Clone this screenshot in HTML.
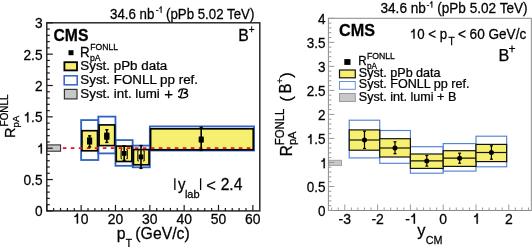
<!DOCTYPE html>
<html><head><meta charset="utf-8"><style>
html,body{margin:0;padding:0;background:#fff;}
svg{display:block;filter:blur(0.3px);}
text{font-family:"Liberation Sans", sans-serif;fill:#000;stroke:#000;stroke-width:0.25px;}
</style></head><body>
<svg width="532" height="247" viewBox="0 0 532 247">
<rect x="0" y="0" width="532" height="247" fill="#fff"/>
<rect x="46.80" y="144.90" width="13.80" height="6.30" fill="#c8c8c8" stroke="#222" stroke-width="1" />
<rect x="81.14" y="120.10" width="17.17" height="39.90" fill="none" stroke="#2f62c2" stroke-width="1.8" />
<rect x="98.31" y="116.60" width="17.17" height="36.80" fill="none" stroke="#2f62c2" stroke-width="1.8" />
<rect x="115.48" y="140.10" width="17.17" height="25.70" fill="none" stroke="#2f62c2" stroke-width="1.8" />
<rect x="132.65" y="145.60" width="17.17" height="21.70" fill="none" stroke="#2f62c2" stroke-width="1.8" />
<rect x="149.82" y="126.40" width="104.22" height="24.10" fill="none" stroke="#2f62c2" stroke-width="1.8" />
<rect x="81.94" y="130.70" width="15.57" height="20.10" fill="#f7ef6f" stroke="#000" stroke-width="1.65" />
<rect x="99.11" y="124.90" width="15.57" height="20.70" fill="#f7ef6f" stroke="#000" stroke-width="1.65" />
<rect x="116.28" y="146.10" width="15.57" height="15.40" fill="#f7ef6f" stroke="#000" stroke-width="1.65" />
<rect x="133.45" y="149.60" width="15.57" height="15.20" fill="#f7ef6f" stroke="#000" stroke-width="1.65" />
<rect x="150.62" y="128.80" width="102.62" height="21.00" fill="#f7ef6f" stroke="#000" stroke-width="1.65" />
<line x1="62.80" y1="148.20" x2="253.50" y2="148.20" stroke="#e8141c" stroke-width="1.8" stroke-dasharray="3.6 4.4"/>
<rect x="87.00" y="137.50" width="5.20" height="7.00" fill="#000" stroke="none" stroke-width="1" />
<rect x="104.20" y="132.60" width="5.20" height="7.20" fill="#000" stroke="none" stroke-width="1" />
<path d="M122.10,149.60 H121.10 V158.70 H122.10 M126.30,149.60 H127.30 V158.70 H126.30" fill="none" stroke="#000" stroke-width="1.0"/>
<path d="M138.80,150.80 H137.80 V161.00 H138.80 M143.20,150.80 H144.20 V161.00 H143.20" fill="none" stroke="#000" stroke-width="1.0"/>
<rect x="198.80" y="136.50" width="4.80" height="6.10" fill="#000" stroke="none" stroke-width="1" />
<line x1="89.60" y1="135.30" x2="89.60" y2="147.50" stroke="#000" stroke-width="1.6" />
<line x1="88.00" y1="135.90" x2="91.20" y2="135.90" stroke="#000" stroke-width="1.4" />
<line x1="88.00" y1="146.90" x2="91.20" y2="146.90" stroke="#000" stroke-width="1.4" />
<rect x="87.20" y="138.60" width="4.80" height="4.80" fill="#000" stroke="none" stroke-width="1" />
<line x1="106.80" y1="129.20" x2="106.80" y2="143.00" stroke="#000" stroke-width="1.6" />
<line x1="105.20" y1="129.80" x2="108.40" y2="129.80" stroke="#000" stroke-width="1.4" />
<line x1="105.20" y1="142.40" x2="108.40" y2="142.40" stroke="#000" stroke-width="1.4" />
<rect x="104.40" y="133.70" width="4.80" height="4.80" fill="#000" stroke="none" stroke-width="1" />
<line x1="124.20" y1="145.50" x2="124.20" y2="161.00" stroke="#000" stroke-width="1.6" />
<line x1="122.60" y1="146.10" x2="125.80" y2="146.10" stroke="#000" stroke-width="1.4" />
<line x1="122.60" y1="160.40" x2="125.80" y2="160.40" stroke="#000" stroke-width="1.4" />
<rect x="121.80" y="151.00" width="4.80" height="4.80" fill="#000" stroke="none" stroke-width="1" />
<line x1="141.00" y1="145.00" x2="141.00" y2="169.00" stroke="#000" stroke-width="1.6" />
<line x1="139.40" y1="145.60" x2="142.60" y2="145.60" stroke="#000" stroke-width="1.4" />
<line x1="139.40" y1="168.40" x2="142.60" y2="168.40" stroke="#000" stroke-width="1.4" />
<rect x="138.60" y="154.50" width="4.80" height="4.80" fill="#000" stroke="none" stroke-width="1" />
<line x1="201.20" y1="126.80" x2="201.20" y2="151.00" stroke="#000" stroke-width="1.6" />
<line x1="199.60" y1="127.40" x2="202.80" y2="127.40" stroke="#000" stroke-width="1.4" />
<line x1="199.60" y1="150.40" x2="202.80" y2="150.40" stroke="#000" stroke-width="1.4" />
<rect x="198.80" y="137.20" width="4.80" height="4.80" fill="#000" stroke="none" stroke-width="1" />
<rect x="46.80" y="22.80" width="213.00" height="188.10" fill="none" stroke="#2a2a2a" stroke-width="1.5" />
<line x1="46.80" y1="210.90" x2="46.80" y2="204.90" stroke="#1a1a1a" stroke-width="1.2" />
<line x1="53.67" y1="210.90" x2="53.67" y2="207.90" stroke="#1a1a1a" stroke-width="1.2" />
<line x1="60.54" y1="210.90" x2="60.54" y2="207.90" stroke="#1a1a1a" stroke-width="1.2" />
<line x1="67.40" y1="210.90" x2="67.40" y2="207.90" stroke="#1a1a1a" stroke-width="1.2" />
<line x1="74.27" y1="210.90" x2="74.27" y2="207.90" stroke="#1a1a1a" stroke-width="1.2" />
<line x1="81.14" y1="210.90" x2="81.14" y2="204.90" stroke="#1a1a1a" stroke-width="1.2" />
<line x1="88.01" y1="210.90" x2="88.01" y2="207.90" stroke="#1a1a1a" stroke-width="1.2" />
<line x1="94.88" y1="210.90" x2="94.88" y2="207.90" stroke="#1a1a1a" stroke-width="1.2" />
<line x1="101.74" y1="210.90" x2="101.74" y2="207.90" stroke="#1a1a1a" stroke-width="1.2" />
<line x1="108.61" y1="210.90" x2="108.61" y2="207.90" stroke="#1a1a1a" stroke-width="1.2" />
<line x1="115.48" y1="210.90" x2="115.48" y2="204.90" stroke="#1a1a1a" stroke-width="1.2" />
<line x1="122.35" y1="210.90" x2="122.35" y2="207.90" stroke="#1a1a1a" stroke-width="1.2" />
<line x1="129.22" y1="210.90" x2="129.22" y2="207.90" stroke="#1a1a1a" stroke-width="1.2" />
<line x1="136.08" y1="210.90" x2="136.08" y2="207.90" stroke="#1a1a1a" stroke-width="1.2" />
<line x1="142.95" y1="210.90" x2="142.95" y2="207.90" stroke="#1a1a1a" stroke-width="1.2" />
<line x1="149.82" y1="210.90" x2="149.82" y2="204.90" stroke="#1a1a1a" stroke-width="1.2" />
<line x1="156.69" y1="210.90" x2="156.69" y2="207.90" stroke="#1a1a1a" stroke-width="1.2" />
<line x1="163.56" y1="210.90" x2="163.56" y2="207.90" stroke="#1a1a1a" stroke-width="1.2" />
<line x1="170.42" y1="210.90" x2="170.42" y2="207.90" stroke="#1a1a1a" stroke-width="1.2" />
<line x1="177.29" y1="210.90" x2="177.29" y2="207.90" stroke="#1a1a1a" stroke-width="1.2" />
<line x1="184.16" y1="210.90" x2="184.16" y2="204.90" stroke="#1a1a1a" stroke-width="1.2" />
<line x1="191.03" y1="210.90" x2="191.03" y2="207.90" stroke="#1a1a1a" stroke-width="1.2" />
<line x1="197.90" y1="210.90" x2="197.90" y2="207.90" stroke="#1a1a1a" stroke-width="1.2" />
<line x1="204.76" y1="210.90" x2="204.76" y2="207.90" stroke="#1a1a1a" stroke-width="1.2" />
<line x1="211.63" y1="210.90" x2="211.63" y2="207.90" stroke="#1a1a1a" stroke-width="1.2" />
<line x1="218.50" y1="210.90" x2="218.50" y2="204.90" stroke="#1a1a1a" stroke-width="1.2" />
<line x1="225.37" y1="210.90" x2="225.37" y2="207.90" stroke="#1a1a1a" stroke-width="1.2" />
<line x1="232.24" y1="210.90" x2="232.24" y2="207.90" stroke="#1a1a1a" stroke-width="1.2" />
<line x1="239.10" y1="210.90" x2="239.10" y2="207.90" stroke="#1a1a1a" stroke-width="1.2" />
<line x1="245.97" y1="210.90" x2="245.97" y2="207.90" stroke="#1a1a1a" stroke-width="1.2" />
<line x1="252.84" y1="210.90" x2="252.84" y2="204.90" stroke="#1a1a1a" stroke-width="1.2" />
<line x1="46.80" y1="210.90" x2="52.80" y2="210.90" stroke="#1a1a1a" stroke-width="1.2" />
<line x1="46.80" y1="204.63" x2="49.80" y2="204.63" stroke="#1a1a1a" stroke-width="1.2" />
<line x1="46.80" y1="198.36" x2="49.80" y2="198.36" stroke="#1a1a1a" stroke-width="1.2" />
<line x1="46.80" y1="192.09" x2="49.80" y2="192.09" stroke="#1a1a1a" stroke-width="1.2" />
<line x1="46.80" y1="185.82" x2="49.80" y2="185.82" stroke="#1a1a1a" stroke-width="1.2" />
<line x1="46.80" y1="179.55" x2="52.80" y2="179.55" stroke="#1a1a1a" stroke-width="1.2" />
<line x1="46.80" y1="173.28" x2="49.80" y2="173.28" stroke="#1a1a1a" stroke-width="1.2" />
<line x1="46.80" y1="167.01" x2="49.80" y2="167.01" stroke="#1a1a1a" stroke-width="1.2" />
<line x1="46.80" y1="160.74" x2="49.80" y2="160.74" stroke="#1a1a1a" stroke-width="1.2" />
<line x1="46.80" y1="154.47" x2="49.80" y2="154.47" stroke="#1a1a1a" stroke-width="1.2" />
<line x1="46.80" y1="148.20" x2="52.80" y2="148.20" stroke="#1a1a1a" stroke-width="1.2" />
<line x1="46.80" y1="141.93" x2="49.80" y2="141.93" stroke="#1a1a1a" stroke-width="1.2" />
<line x1="46.80" y1="135.66" x2="49.80" y2="135.66" stroke="#1a1a1a" stroke-width="1.2" />
<line x1="46.80" y1="129.39" x2="49.80" y2="129.39" stroke="#1a1a1a" stroke-width="1.2" />
<line x1="46.80" y1="123.12" x2="49.80" y2="123.12" stroke="#1a1a1a" stroke-width="1.2" />
<line x1="46.80" y1="116.85" x2="52.80" y2="116.85" stroke="#1a1a1a" stroke-width="1.2" />
<line x1="46.80" y1="110.58" x2="49.80" y2="110.58" stroke="#1a1a1a" stroke-width="1.2" />
<line x1="46.80" y1="104.31" x2="49.80" y2="104.31" stroke="#1a1a1a" stroke-width="1.2" />
<line x1="46.80" y1="98.04" x2="49.80" y2="98.04" stroke="#1a1a1a" stroke-width="1.2" />
<line x1="46.80" y1="91.77" x2="49.80" y2="91.77" stroke="#1a1a1a" stroke-width="1.2" />
<line x1="46.80" y1="85.50" x2="52.80" y2="85.50" stroke="#1a1a1a" stroke-width="1.2" />
<line x1="46.80" y1="79.23" x2="49.80" y2="79.23" stroke="#1a1a1a" stroke-width="1.2" />
<line x1="46.80" y1="72.96" x2="49.80" y2="72.96" stroke="#1a1a1a" stroke-width="1.2" />
<line x1="46.80" y1="66.69" x2="49.80" y2="66.69" stroke="#1a1a1a" stroke-width="1.2" />
<line x1="46.80" y1="60.42" x2="49.80" y2="60.42" stroke="#1a1a1a" stroke-width="1.2" />
<line x1="46.80" y1="54.15" x2="52.80" y2="54.15" stroke="#1a1a1a" stroke-width="1.2" />
<line x1="46.80" y1="47.88" x2="49.80" y2="47.88" stroke="#1a1a1a" stroke-width="1.2" />
<line x1="46.80" y1="41.61" x2="49.80" y2="41.61" stroke="#1a1a1a" stroke-width="1.2" />
<line x1="46.80" y1="35.34" x2="49.80" y2="35.34" stroke="#1a1a1a" stroke-width="1.2" />
<line x1="46.80" y1="29.07" x2="49.80" y2="29.07" stroke="#1a1a1a" stroke-width="1.2" />
<line x1="46.80" y1="22.80" x2="52.80" y2="22.80" stroke="#1a1a1a" stroke-width="1.2" />
<g transform="translate(73.04,223.60) scale(1,1.04)"><path transform="translate(0.000,0) scale(13.9)" d="M0.27,-0.703 L0.36,-0.703 L0.36,0 L0.27,0 L0.27,-0.515 C0.22,-0.47 0.16,-0.455 0.10,-0.45 L0.10,-0.525 C0.19,-0.535 0.255,-0.59 0.27,-0.703 Z" fill="#000" stroke="#000" stroke-width="0.0180"/><text x="7.728" y="0" font-size="13.9">0</text></g>
<g transform="translate(107.76,223.60) scale(1,1.04)"><text x="0.000" y="0" font-size="13.9">2</text><text x="7.728" y="0" font-size="13.9">0</text></g>
<g transform="translate(142.10,223.60) scale(1,1.04)"><text x="0.000" y="0" font-size="13.9">3</text><text x="7.728" y="0" font-size="13.9">0</text></g>
<g transform="translate(176.44,223.60) scale(1,1.04)"><text x="0.000" y="0" font-size="13.9">4</text><text x="7.728" y="0" font-size="13.9">0</text></g>
<g transform="translate(210.78,223.60) scale(1,1.04)"><text x="0.000" y="0" font-size="13.9">5</text><text x="7.728" y="0" font-size="13.9">0</text></g>
<g transform="translate(245.12,223.60) scale(1,1.04)"><text x="0.000" y="0" font-size="13.9">6</text><text x="7.728" y="0" font-size="13.9">0</text></g>
<g transform="translate(34.91,216.30) scale(1,1.04)"><text x="0.000" y="0" font-size="13.7">0</text></g>
<g transform="translate(23.49,184.95) scale(1,1.04)"><text x="0.000" y="0" font-size="13.7">0</text><text x="7.617" y="0" font-size="13.7">.</text><text x="11.426" y="0" font-size="13.7">5</text></g>
<g transform="translate(36.97,153.60) scale(1,1.04)"><path transform="translate(0.000,0) scale(13.7)" d="M0.27,-0.703 L0.36,-0.703 L0.36,0 L0.27,0 L0.27,-0.515 C0.22,-0.47 0.16,-0.455 0.10,-0.45 L0.10,-0.525 C0.19,-0.535 0.255,-0.59 0.27,-0.703 Z" fill="#000" stroke="#000" stroke-width="0.0182"/></g>
<g transform="translate(23.49,122.25) scale(1,1.04)"><path transform="translate(0.000,0) scale(13.7)" d="M0.27,-0.703 L0.36,-0.703 L0.36,0 L0.27,0 L0.27,-0.515 C0.22,-0.47 0.16,-0.455 0.10,-0.45 L0.10,-0.525 C0.19,-0.535 0.255,-0.59 0.27,-0.703 Z" fill="#000" stroke="#000" stroke-width="0.0182"/><text x="7.617" y="0" font-size="13.7">.</text><text x="11.426" y="0" font-size="13.7">5</text></g>
<g transform="translate(34.91,90.90) scale(1,1.04)"><text x="0.000" y="0" font-size="13.7">2</text></g>
<g transform="translate(23.49,59.55) scale(1,1.04)"><text x="0.000" y="0" font-size="13.7">2</text><text x="7.617" y="0" font-size="13.7">.</text><text x="11.426" y="0" font-size="13.7">5</text></g>
<g transform="translate(34.91,28.20) scale(1,1.04)"><text x="0.000" y="0" font-size="13.7">3</text></g>
<text transform="translate(110.00,18.80) scale(1,1.04)" font-size="13.3" text-anchor="start" font-weight="normal" >34.6 nb</text>
<text transform="translate(155.85,12.80) scale(1,1.04)" font-size="8.8" text-anchor="start" font-weight="normal" >-</text>
<path transform="translate(158.35,12.80) scale(8.8,9.152)" d="M0.27,-0.703 L0.36,-0.703 L0.36,0 L0.27,0 L0.27,-0.515 C0.22,-0.47 0.16,-0.455 0.10,-0.45 L0.10,-0.525 C0.19,-0.535 0.255,-0.59 0.27,-0.703 Z" fill="#000" stroke="#000" stroke-width="0.0284"/>
<text transform="translate(166.00,18.80) scale(1,1.04)" font-size="13.3" text-anchor="start" font-weight="normal" >(pPb 5.02 TeV)</text>
<text transform="translate(53.50,40.50) scale(1,1.07)" font-size="15.7" text-anchor="start" font-weight="bold" >CMS</text>
<text transform="translate(238.30,40.60) scale(1,1.04)" font-size="15.8" text-anchor="start" font-weight="normal" >B<tspan dy="-7" font-size="10">+</tspan></text>
<rect x="68.50" y="50.20" width="5.00" height="5.00" fill="#000" stroke="none" stroke-width="1" />
<text transform="translate(80.00,57.20) scale(1,1.04)" font-size="13.4" text-anchor="start" font-weight="normal" >R</text>
<text transform="translate(90.30,49.80) scale(1,1.04)" font-size="8.6" text-anchor="start" font-weight="normal" >FONLL</text>
<text transform="translate(89.90,60.60) scale(1,1.04)" font-size="8.8" text-anchor="start" font-weight="normal" >pA</text>
<rect x="64.40" y="62.20" width="12.60" height="8.20" fill="#f7ef6f" stroke="#000" stroke-width="1.8" />
<text transform="translate(80.30,69.80) scale(1,0.95)" font-size="13.4" text-anchor="start" font-weight="normal" >Syst. pPb data</text>
<rect x="64.20" y="75.80" width="13.00" height="9.00" fill="#fff" stroke="#3c6cc4" stroke-width="1.6" />
<text transform="translate(80.30,83.70) scale(1,0.95)" font-size="13.4" text-anchor="start" font-weight="normal" >Syst. FONLL pp ref.</text>
<rect x="64.40" y="89.40" width="12.60" height="9.50" fill="#c8c8c8" stroke="#333" stroke-width="1.2" />
<text transform="translate(80.30,97.80) scale(1,0.95)" font-size="13.4" text-anchor="start" font-weight="normal" >Syst. int. lumi</text>
<text transform="translate(164.35,99.25) scale(1,1.0)" font-size="15" text-anchor="start" font-weight="normal" >+</text>
<path d="M178.7,91.7 C179.3,89.7 181.0,88.9 183.0,88.9 C186.0,88.8 187.6,89.5 187.2,91.0 C186.8,92.5 185.0,93.0 183.6,93.1 C186.6,93.2 188.1,94.2 187.6,95.8 C187.0,97.5 184.0,97.9 181.5,97.8 C180.0,97.7 178.8,97.4 178.5,96.6 M182.7,89.3 C181.9,92.0 181.1,95.0 180.3,97.5" fill="none" stroke="#000" stroke-width="1.35" stroke-linecap="round"/>
<line x1="174.85" y1="178.30" x2="174.85" y2="190.10" stroke="#000" stroke-width="1.3" />
<text transform="translate(178.10,190.10) scale(1,1.04)" font-size="15" text-anchor="start" font-weight="normal" >y</text>
<text transform="translate(184.90,198.20) scale(1,1.04)" font-size="11" text-anchor="start" font-weight="normal" >lab</text>
<line x1="200.60" y1="178.30" x2="200.60" y2="190.10" stroke="#000" stroke-width="1.3" />
<text transform="translate(206.20,190.60) scale(1,1.0)" font-size="16.5" text-anchor="start" font-weight="normal" >&lt;</text>
<text transform="translate(220.70,190.00) scale(1,1.04)" font-size="15.6" text-anchor="start" font-weight="normal" >2.4</text>
<text transform="translate(116.80,238.80) scale(1,1.04)" font-size="15.8" text-anchor="start" font-weight="normal" >p</text>
<text transform="translate(125.80,246.80) scale(1,1.04)" font-size="10.2" text-anchor="start" font-weight="normal" >T</text>
<text transform="translate(135.35,238.80) scale(1,1.04)" font-size="15.8" text-anchor="start" font-weight="normal" >(GeV/c)</text>
<text transform="translate(14.70,138.10) rotate(-90) scale(1,1.04)" font-size="14.6" >R</text>
<text transform="translate(7.90,126.40) rotate(-90) scale(1,1.04)" font-size="9.9" >FONLL</text>
<text transform="translate(19.40,127.40) rotate(-90) scale(1,1.04)" font-size="9.5" >pA</text>
<rect x="328.80" y="160.30" width="12.70" height="5.10" fill="#c8c8c8" stroke="#a0a0a0" stroke-width="1" />
<rect x="349.23" y="120.20" width="30.50" height="37.70" fill="none" stroke="#5283d0" stroke-width="1.15" />
<rect x="379.73" y="130.50" width="30.67" height="32.80" fill="none" stroke="#5283d0" stroke-width="1.15" />
<rect x="410.40" y="146.70" width="32.80" height="26.50" fill="none" stroke="#5283d0" stroke-width="1.15" />
<rect x="443.20" y="143.60" width="32.80" height="27.50" fill="none" stroke="#5283d0" stroke-width="1.15" />
<rect x="476.00" y="136.20" width="30.67" height="30.60" fill="none" stroke="#5283d0" stroke-width="1.15" />
<rect x="349.23" y="129.90" width="30.50" height="20.30" fill="#f7ef6f" stroke="#111" stroke-width="1.2" />
<line x1="349.23" y1="140.00" x2="379.73" y2="140.00" stroke="#111" stroke-width="1.2" />
<line x1="364.48" y1="131.20" x2="364.48" y2="148.50" stroke="#000" stroke-width="1.2" />
<line x1="362.98" y1="131.20" x2="365.98" y2="131.20" stroke="#000" stroke-width="1.2" />
<line x1="362.98" y1="148.50" x2="365.98" y2="148.50" stroke="#000" stroke-width="1.2" />
<circle cx="364.48" cy="140.00" r="2.5" fill="#000"/>
<rect x="379.73" y="138.70" width="30.67" height="18.30" fill="#f7ef6f" stroke="#111" stroke-width="1.2" />
<line x1="379.73" y1="148.00" x2="410.40" y2="148.00" stroke="#111" stroke-width="1.2" />
<line x1="394.98" y1="141.80" x2="394.98" y2="153.70" stroke="#000" stroke-width="1.2" />
<line x1="393.48" y1="141.80" x2="396.48" y2="141.80" stroke="#000" stroke-width="1.2" />
<line x1="393.48" y1="153.70" x2="396.48" y2="153.70" stroke="#000" stroke-width="1.2" />
<circle cx="394.98" cy="148.00" r="2.5" fill="#000"/>
<rect x="410.40" y="154.00" width="32.80" height="14.40" fill="#f7ef6f" stroke="#111" stroke-width="1.2" />
<line x1="410.40" y1="160.90" x2="443.20" y2="160.90" stroke="#111" stroke-width="1.2" />
<line x1="426.80" y1="155.50" x2="426.80" y2="166.10" stroke="#000" stroke-width="1.2" />
<line x1="425.30" y1="155.50" x2="428.30" y2="155.50" stroke="#000" stroke-width="1.2" />
<line x1="425.30" y1="166.10" x2="428.30" y2="166.10" stroke="#000" stroke-width="1.2" />
<circle cx="426.80" cy="160.90" r="2.5" fill="#000"/>
<rect x="443.20" y="150.70" width="32.80" height="15.70" fill="#f7ef6f" stroke="#111" stroke-width="1.2" />
<line x1="443.20" y1="158.20" x2="476.00" y2="158.20" stroke="#111" stroke-width="1.2" />
<line x1="459.60" y1="153.20" x2="459.60" y2="163.20" stroke="#000" stroke-width="1.2" />
<line x1="458.10" y1="153.20" x2="461.10" y2="153.20" stroke="#000" stroke-width="1.2" />
<line x1="458.10" y1="163.20" x2="461.10" y2="163.20" stroke="#000" stroke-width="1.2" />
<circle cx="459.60" cy="158.20" r="2.5" fill="#000"/>
<rect x="476.00" y="144.40" width="30.67" height="17.20" fill="#f7ef6f" stroke="#111" stroke-width="1.2" />
<line x1="476.00" y1="152.50" x2="506.67" y2="152.50" stroke="#111" stroke-width="1.2" />
<line x1="491.42" y1="145.80" x2="491.42" y2="159.20" stroke="#000" stroke-width="1.2" />
<line x1="489.92" y1="145.80" x2="492.92" y2="145.80" stroke="#000" stroke-width="1.2" />
<line x1="489.92" y1="159.20" x2="492.92" y2="159.20" stroke="#000" stroke-width="1.2" />
<circle cx="491.42" cy="152.50" r="2.5" fill="#000"/>
<rect x="328.40" y="18.30" width="202.90" height="192.20" fill="none" stroke="#8a8a8a" stroke-width="1.0" />
<line x1="331.68" y1="210.50" x2="331.68" y2="207.50" stroke="#999" stroke-width="1.0" />
<line x1="338.24" y1="210.50" x2="338.24" y2="207.50" stroke="#999" stroke-width="1.0" />
<line x1="344.80" y1="210.50" x2="344.80" y2="204.50" stroke="#999" stroke-width="1.0" />
<line x1="351.36" y1="210.50" x2="351.36" y2="207.50" stroke="#999" stroke-width="1.0" />
<line x1="357.92" y1="210.50" x2="357.92" y2="207.50" stroke="#999" stroke-width="1.0" />
<line x1="364.48" y1="210.50" x2="364.48" y2="207.50" stroke="#999" stroke-width="1.0" />
<line x1="371.04" y1="210.50" x2="371.04" y2="207.50" stroke="#999" stroke-width="1.0" />
<line x1="377.60" y1="210.50" x2="377.60" y2="204.50" stroke="#999" stroke-width="1.0" />
<line x1="384.16" y1="210.50" x2="384.16" y2="207.50" stroke="#999" stroke-width="1.0" />
<line x1="390.72" y1="210.50" x2="390.72" y2="207.50" stroke="#999" stroke-width="1.0" />
<line x1="397.28" y1="210.50" x2="397.28" y2="207.50" stroke="#999" stroke-width="1.0" />
<line x1="403.84" y1="210.50" x2="403.84" y2="207.50" stroke="#999" stroke-width="1.0" />
<line x1="410.40" y1="210.50" x2="410.40" y2="204.50" stroke="#999" stroke-width="1.0" />
<line x1="416.96" y1="210.50" x2="416.96" y2="207.50" stroke="#999" stroke-width="1.0" />
<line x1="423.52" y1="210.50" x2="423.52" y2="207.50" stroke="#999" stroke-width="1.0" />
<line x1="430.08" y1="210.50" x2="430.08" y2="207.50" stroke="#999" stroke-width="1.0" />
<line x1="436.64" y1="210.50" x2="436.64" y2="207.50" stroke="#999" stroke-width="1.0" />
<line x1="443.20" y1="210.50" x2="443.20" y2="204.50" stroke="#999" stroke-width="1.0" />
<line x1="449.76" y1="210.50" x2="449.76" y2="207.50" stroke="#999" stroke-width="1.0" />
<line x1="456.32" y1="210.50" x2="456.32" y2="207.50" stroke="#999" stroke-width="1.0" />
<line x1="462.88" y1="210.50" x2="462.88" y2="207.50" stroke="#999" stroke-width="1.0" />
<line x1="469.44" y1="210.50" x2="469.44" y2="207.50" stroke="#999" stroke-width="1.0" />
<line x1="476.00" y1="210.50" x2="476.00" y2="204.50" stroke="#999" stroke-width="1.0" />
<line x1="482.56" y1="210.50" x2="482.56" y2="207.50" stroke="#999" stroke-width="1.0" />
<line x1="489.12" y1="210.50" x2="489.12" y2="207.50" stroke="#999" stroke-width="1.0" />
<line x1="495.68" y1="210.50" x2="495.68" y2="207.50" stroke="#999" stroke-width="1.0" />
<line x1="502.24" y1="210.50" x2="502.24" y2="207.50" stroke="#999" stroke-width="1.0" />
<line x1="508.80" y1="210.50" x2="508.80" y2="204.50" stroke="#999" stroke-width="1.0" />
<line x1="515.36" y1="210.50" x2="515.36" y2="207.50" stroke="#999" stroke-width="1.0" />
<line x1="521.92" y1="210.50" x2="521.92" y2="207.50" stroke="#999" stroke-width="1.0" />
<line x1="528.48" y1="210.50" x2="528.48" y2="207.50" stroke="#999" stroke-width="1.0" />
<line x1="328.40" y1="210.50" x2="334.40" y2="210.50" stroke="#999" stroke-width="1.0" />
<line x1="328.40" y1="205.69" x2="331.40" y2="205.69" stroke="#999" stroke-width="1.0" />
<line x1="328.40" y1="200.89" x2="331.40" y2="200.89" stroke="#999" stroke-width="1.0" />
<line x1="328.40" y1="196.09" x2="331.40" y2="196.09" stroke="#999" stroke-width="1.0" />
<line x1="328.40" y1="191.28" x2="331.40" y2="191.28" stroke="#999" stroke-width="1.0" />
<line x1="328.40" y1="186.47" x2="334.40" y2="186.47" stroke="#999" stroke-width="1.0" />
<line x1="328.40" y1="181.67" x2="331.40" y2="181.67" stroke="#999" stroke-width="1.0" />
<line x1="328.40" y1="176.87" x2="331.40" y2="176.87" stroke="#999" stroke-width="1.0" />
<line x1="328.40" y1="172.06" x2="331.40" y2="172.06" stroke="#999" stroke-width="1.0" />
<line x1="328.40" y1="167.25" x2="331.40" y2="167.25" stroke="#999" stroke-width="1.0" />
<line x1="328.40" y1="162.45" x2="334.40" y2="162.45" stroke="#999" stroke-width="1.0" />
<line x1="328.40" y1="157.64" x2="331.40" y2="157.64" stroke="#999" stroke-width="1.0" />
<line x1="328.40" y1="152.84" x2="331.40" y2="152.84" stroke="#999" stroke-width="1.0" />
<line x1="328.40" y1="148.03" x2="331.40" y2="148.03" stroke="#999" stroke-width="1.0" />
<line x1="328.40" y1="143.23" x2="331.40" y2="143.23" stroke="#999" stroke-width="1.0" />
<line x1="328.40" y1="138.43" x2="334.40" y2="138.43" stroke="#999" stroke-width="1.0" />
<line x1="328.40" y1="133.62" x2="331.40" y2="133.62" stroke="#999" stroke-width="1.0" />
<line x1="328.40" y1="128.81" x2="331.40" y2="128.81" stroke="#999" stroke-width="1.0" />
<line x1="328.40" y1="124.01" x2="331.40" y2="124.01" stroke="#999" stroke-width="1.0" />
<line x1="328.40" y1="119.20" x2="331.40" y2="119.20" stroke="#999" stroke-width="1.0" />
<line x1="328.40" y1="114.40" x2="334.40" y2="114.40" stroke="#999" stroke-width="1.0" />
<line x1="328.40" y1="109.59" x2="331.40" y2="109.59" stroke="#999" stroke-width="1.0" />
<line x1="328.40" y1="104.79" x2="331.40" y2="104.79" stroke="#999" stroke-width="1.0" />
<line x1="328.40" y1="99.98" x2="331.40" y2="99.98" stroke="#999" stroke-width="1.0" />
<line x1="328.40" y1="95.18" x2="331.40" y2="95.18" stroke="#999" stroke-width="1.0" />
<line x1="328.40" y1="90.38" x2="334.40" y2="90.38" stroke="#999" stroke-width="1.0" />
<line x1="328.40" y1="85.57" x2="331.40" y2="85.57" stroke="#999" stroke-width="1.0" />
<line x1="328.40" y1="80.76" x2="331.40" y2="80.76" stroke="#999" stroke-width="1.0" />
<line x1="328.40" y1="75.96" x2="331.40" y2="75.96" stroke="#999" stroke-width="1.0" />
<line x1="328.40" y1="71.16" x2="331.40" y2="71.16" stroke="#999" stroke-width="1.0" />
<line x1="328.40" y1="66.35" x2="334.40" y2="66.35" stroke="#999" stroke-width="1.0" />
<line x1="328.40" y1="61.55" x2="331.40" y2="61.55" stroke="#999" stroke-width="1.0" />
<line x1="328.40" y1="56.74" x2="331.40" y2="56.74" stroke="#999" stroke-width="1.0" />
<line x1="328.40" y1="51.94" x2="331.40" y2="51.94" stroke="#999" stroke-width="1.0" />
<line x1="328.40" y1="47.13" x2="331.40" y2="47.13" stroke="#999" stroke-width="1.0" />
<line x1="328.40" y1="42.33" x2="334.40" y2="42.33" stroke="#999" stroke-width="1.0" />
<line x1="328.40" y1="37.52" x2="331.40" y2="37.52" stroke="#999" stroke-width="1.0" />
<line x1="328.40" y1="32.72" x2="331.40" y2="32.72" stroke="#999" stroke-width="1.0" />
<line x1="328.40" y1="27.91" x2="331.40" y2="27.91" stroke="#999" stroke-width="1.0" />
<line x1="328.40" y1="23.10" x2="331.40" y2="23.10" stroke="#999" stroke-width="1.0" />
<line x1="328.40" y1="18.30" x2="334.40" y2="18.30" stroke="#999" stroke-width="1.0" />
<g transform="translate(338.62,223.70) scale(1,1.04)"><text x="0.000" y="0" font-size="14.0">-</text><text x="4.662" y="0" font-size="14.0">3</text></g>
<g transform="translate(371.42,223.70) scale(1,1.04)"><text x="0.000" y="0" font-size="14.0">-</text><text x="4.662" y="0" font-size="14.0">2</text></g>
<g transform="translate(405.27,223.70) scale(1,1.04)"><text x="0.000" y="0" font-size="14.0">-</text><path transform="translate(4.662,0) scale(14.0)" d="M0.27,-0.703 L0.36,-0.703 L0.36,0 L0.27,0 L0.27,-0.515 C0.22,-0.47 0.16,-0.455 0.10,-0.45 L0.10,-0.525 C0.19,-0.535 0.255,-0.59 0.27,-0.703 Z" fill="#000" stroke="#000" stroke-width="0.0179"/></g>
<g transform="translate(439.31,223.70) scale(1,1.04)"><text x="0.000" y="0" font-size="14.0">0</text></g>
<g transform="translate(472.78,223.70) scale(1,1.04)"><path transform="translate(0.000,0) scale(14.0)" d="M0.27,-0.703 L0.36,-0.703 L0.36,0 L0.27,0 L0.27,-0.515 C0.22,-0.47 0.16,-0.455 0.10,-0.45 L0.10,-0.525 C0.19,-0.535 0.255,-0.59 0.27,-0.703 Z" fill="#000" stroke="#000" stroke-width="0.0179"/></g>
<g transform="translate(504.91,223.70) scale(1,1.04)"><text x="0.000" y="0" font-size="14.0">2</text></g>
<g transform="translate(317.92,216.20) scale(1,1.04)"><text x="0.000" y="0" font-size="13.5">0</text></g>
<g transform="translate(306.66,192.17) scale(1,1.04)"><text x="0.000" y="0" font-size="13.5">0</text><text x="7.506" y="0" font-size="13.5">.</text><text x="11.259" y="0" font-size="13.5">5</text></g>
<g transform="translate(319.94,168.15) scale(1,1.04)"><path transform="translate(0.000,0) scale(13.5)" d="M0.27,-0.703 L0.36,-0.703 L0.36,0 L0.27,0 L0.27,-0.515 C0.22,-0.47 0.16,-0.455 0.10,-0.45 L0.10,-0.525 C0.19,-0.535 0.255,-0.59 0.27,-0.703 Z" fill="#000" stroke="#000" stroke-width="0.0185"/></g>
<g transform="translate(306.66,144.12) scale(1,1.04)"><path transform="translate(0.000,0) scale(13.5)" d="M0.27,-0.703 L0.36,-0.703 L0.36,0 L0.27,0 L0.27,-0.515 C0.22,-0.47 0.16,-0.455 0.10,-0.45 L0.10,-0.525 C0.19,-0.535 0.255,-0.59 0.27,-0.703 Z" fill="#000" stroke="#000" stroke-width="0.0185"/><text x="7.506" y="0" font-size="13.5">.</text><text x="11.259" y="0" font-size="13.5">5</text></g>
<g transform="translate(317.92,120.10) scale(1,1.04)"><text x="0.000" y="0" font-size="13.5">2</text></g>
<g transform="translate(306.66,96.08) scale(1,1.04)"><text x="0.000" y="0" font-size="13.5">2</text><text x="7.506" y="0" font-size="13.5">.</text><text x="11.259" y="0" font-size="13.5">5</text></g>
<g transform="translate(317.92,72.05) scale(1,1.04)"><text x="0.000" y="0" font-size="13.5">3</text></g>
<g transform="translate(306.66,48.03) scale(1,1.04)"><text x="0.000" y="0" font-size="13.5">3</text><text x="7.506" y="0" font-size="13.5">.</text><text x="11.259" y="0" font-size="13.5">5</text></g>
<g transform="translate(317.92,24.00) scale(1,1.04)"><text x="0.000" y="0" font-size="13.5">4</text></g>
<text transform="translate(380.50,13.40) scale(1,1.04)" font-size="13.6" text-anchor="start" font-weight="normal" >34.6 nb</text>
<text transform="translate(426.60,7.60) scale(1,1.04)" font-size="8.8" text-anchor="start" font-weight="normal" >-</text>
<path transform="translate(429.10,7.60) scale(8.8,9.152)" d="M0.27,-0.703 L0.36,-0.703 L0.36,0 L0.27,0 L0.27,-0.515 C0.22,-0.47 0.16,-0.455 0.10,-0.45 L0.10,-0.525 C0.19,-0.535 0.255,-0.59 0.27,-0.703 Z" fill="#000" stroke="#000" stroke-width="0.0284"/>
<text transform="translate(437.20,13.40) scale(1,1.04)" font-size="13.6" text-anchor="start" font-weight="normal" >(pPb 5.02 TeV)</text>
<text transform="translate(339.05,35.70) scale(1,1.07)" font-size="16.2" text-anchor="start" font-weight="bold" >CMS</text>
<path transform="translate(409.80,38.60) scale(13.3,13.832)" d="M0.27,-0.703 L0.36,-0.703 L0.36,0 L0.27,0 L0.27,-0.515 C0.22,-0.47 0.16,-0.455 0.10,-0.45 L0.10,-0.525 C0.19,-0.535 0.255,-0.59 0.27,-0.703 Z" fill="#000" stroke="#000" stroke-width="0.0188"/>
<text transform="translate(417.19,38.60) scale(1,1.04)" font-size="13.3" text-anchor="start" font-weight="normal" >0 &lt; p</text>
<text transform="translate(448.50,45.00) scale(1,1.04)" font-size="10.1" text-anchor="start" font-weight="normal" >T</text>
<text transform="translate(457.90,38.60) scale(1,1.04)" font-size="13.6" text-anchor="start" font-weight="normal" >&lt; 60 GeV/c</text>
<text transform="translate(498.40,60.80) scale(1,1.0)" font-size="16.2" text-anchor="start" font-weight="normal" >B</text>
<text transform="translate(508.60,53.30) scale(1,1.0)" font-size="12" text-anchor="start" font-weight="normal" >+</text>
<rect x="344.30" y="59.10" width="6.20" height="5.80" fill="#000" stroke="none" stroke-width="1" />
<text transform="translate(358.20,64.90) scale(1,1.04)" font-size="11.6" text-anchor="start" font-weight="normal" >R</text>
<text transform="translate(366.90,58.60) scale(1,1.04)" font-size="8.7" text-anchor="start" font-weight="normal" >FONLL</text>
<text transform="translate(366.90,68.90) scale(1,1.04)" font-size="8.2" text-anchor="start" font-weight="normal" >pA</text>
<rect x="339.50" y="70.00" width="15.80" height="7.80" fill="#f7ef6f" stroke="#111" stroke-width="1.2" />
<text transform="translate(358.80,76.60) scale(1,0.95)" font-size="12.6" text-anchor="start" font-weight="normal" >Syst. pPb data</text>
<rect x="339.50" y="81.50" width="15.80" height="7.80" fill="#fff" stroke="#6a8fd6" stroke-width="1.0" />
<text transform="translate(358.80,88.20) scale(1,0.95)" font-size="12.6" text-anchor="start" font-weight="normal" >Syst. FONLL pp ref.</text>
<rect x="339.50" y="93.50" width="15.80" height="8.00" fill="#c8c8c8" stroke="#999" stroke-width="1.0" />
<text transform="translate(358.80,101.30) scale(1,0.95)" font-size="12.6" text-anchor="start" font-weight="normal" >Syst. int. lumi + B</text>
<text transform="translate(417.20,235.90) scale(1,1.04)" font-size="16.4" text-anchor="start" font-weight="normal" >y</text>
<text transform="translate(425.70,244.40) scale(1,1.04)" font-size="10.8" text-anchor="start" font-weight="normal" >CM</text>
<text transform="translate(292.10,156.20) rotate(-90) scale(1,1.04)" font-size="15.3" >R</text>
<text transform="translate(283.80,145.30) rotate(-90) scale(1,1.04)" font-size="11.4" >FONLL</text>
<text transform="translate(296.30,145.10) rotate(-90) scale(1,1.04)" font-size="11.2" >pA</text>
<text transform="translate(292.30,101.70) rotate(-90) scale(1,1.04)" font-size="16.5" >(</text>
<text transform="translate(291.10,93.60) rotate(-90) scale(1,1.04)" font-size="15.0" >B</text>
<text transform="translate(283.00,83.60) rotate(-90) scale(1,1.04)" font-size="9.5" stroke="#000" stroke-width="0.35">+</text>
<text transform="translate(292.30,77.70) rotate(-90) scale(1,1.04)" font-size="16.5" >)</text>
</svg>
</body></html>
